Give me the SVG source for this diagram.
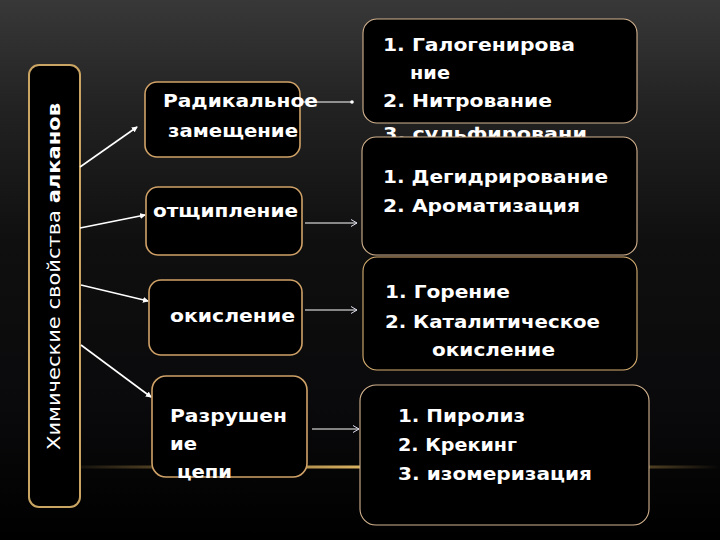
<svg xmlns="http://www.w3.org/2000/svg" width="720" height="540" viewBox="0 0 720 540">
  <defs>
    <linearGradient id="bg" x1="0" y1="0" x2="0" y2="1">
      <stop offset="0" stop-color="#383838"/>
      <stop offset="0.2" stop-color="#222222"/>
      <stop offset="0.45" stop-color="#0f0f0f"/>
      <stop offset="0.75" stop-color="#0a0a0c"/>
      <stop offset="1" stop-color="#000000"/>
    </linearGradient>
    <radialGradient id="glow" cx="0.5" cy="1" r="0.5">
      <stop offset="0" stop-color="#60606a" stop-opacity="1"/>
      <stop offset="0.6" stop-color="#34343a" stop-opacity="0.6"/>
      <stop offset="1" stop-color="#101012" stop-opacity="0"/>
    </radialGradient>
    <linearGradient id="goldline" x1="0" y1="0" x2="1" y2="0">
      <stop offset="0" stop-color="#c9a050" stop-opacity="0"/>
      <stop offset="0.15" stop-color="#c9a050" stop-opacity="0.4"/>
      <stop offset="0.45" stop-color="#d8b060" stop-opacity="1"/>
      <stop offset="0.8" stop-color="#c9a050" stop-opacity="0.7"/>
      <stop offset="1" stop-color="#c9a050" stop-opacity="0"/>
    </linearGradient>
    <clipPath id="aboveline"><rect x="0" y="380" width="720" height="87"/></clipPath>
    <marker id="arr" viewBox="0 0 6 6" refX="5" refY="3" markerWidth="6" markerHeight="6" markerUnits="userSpaceOnUse" orient="auto">
      <path d="M0,0 L6,3 L0,6 z" fill="#ffffff"/>
    </marker>
    <marker id="chev" viewBox="0 0 8 8" refX="7" refY="4" markerWidth="8" markerHeight="8" markerUnits="userSpaceOnUse" orient="auto">
      <polyline points="1,0.5 7,4 1,7.5" fill="none" stroke="#dde" stroke-width="1"/>
    </marker>
    <marker id="dot" viewBox="0 0 4 4" refX="2" refY="2" markerWidth="4" markerHeight="4" markerUnits="userSpaceOnUse">
      <circle cx="2" cy="2" r="1.8" fill="#ffffff"/>
    </marker>
  </defs>
  <style>
    .t { font-family: "DejaVu Sans", "Liberation Sans", sans-serif; font-weight: bold; font-size: 18px; fill: #ffffff; }
    .v { font-family: "DejaVu Sans", "Liberation Sans", sans-serif; font-size: 17px; fill: #ffffff; }
    .lbox { fill: #000000; stroke: #d0a268; stroke-width: 1.6; }
    .rbox { fill: #000000; stroke: #d4b490; stroke-width: 1.1; }
    .conn { stroke: #ffffff; stroke-width: 1.6; fill: none; }
    .rconn { stroke: #ffffff; stroke-width: 1; fill: none; }
  </style>

  <rect x="0" y="0" width="720" height="540" fill="url(#bg)"/>
  <g clip-path="url(#aboveline)">
    <ellipse cx="400" cy="467" rx="330" ry="60" fill="url(#glow)"/>
  </g>
  <rect x="60" y="465.5" width="660" height="3" fill="url(#goldline)"/>

  <g id="main">
    <rect x="29" y="65" width="51" height="442" rx="10" fill="#000000" stroke="#c9a462" stroke-width="2"/>
    <text class="v" transform="translate(60,450) rotate(-90)" x="0" y="0" textLength="347" lengthAdjust="spacingAndGlyphs">Химические свойства <tspan font-weight="bold">алканов</tspan></text>
  </g>

  <g id="connectors">
    <line class="conn" x1="80" y1="167" x2="137" y2="127" marker-end="url(#arr)"/>
    <line class="conn" x1="80" y1="228" x2="145" y2="215" marker-end="url(#arr)"/>
    <line class="conn" x1="81" y1="285" x2="148" y2="301" marker-end="url(#arr)"/>
    <line class="conn" x1="81" y1="345" x2="151" y2="397" marker-end="url(#arr)"/>
    <line class="rconn" x1="300" y1="102" x2="352" y2="102" marker-end="url(#dot)"/>
    <line class="rconn" x1="305" y1="223" x2="357" y2="223" marker-end="url(#chev)"/>
    <line class="rconn" x1="305" y1="310" x2="357" y2="310" marker-end="url(#chev)"/>
    <line class="rconn" x1="312" y1="429" x2="359" y2="429" marker-end="url(#chev)"/>
  </g>

  <g id="n1">
    <rect class="lbox" x="145" y="82" width="155" height="75" rx="12"/>
    <text class="t" x="163" y="107" textLength="155" lengthAdjust="spacingAndGlyphs">Радикальное</text>
    <text class="t" x="168" y="137" textLength="130" lengthAdjust="spacingAndGlyphs">замещение</text>
  </g>
  <g id="n2">
    <rect class="lbox" x="146" y="187" width="156" height="68" rx="12"/>
    <text class="t" x="153" y="217" textLength="145" lengthAdjust="spacingAndGlyphs">отщипление</text>
  </g>
  <g id="n3">
    <rect class="lbox" x="149" y="280" width="153" height="75" rx="12"/>
    <text class="t" x="170" y="322" textLength="125" lengthAdjust="spacingAndGlyphs">окисление</text>
  </g>
  <g id="n4">
    <rect class="lbox" x="152" y="376" width="155" height="101" rx="14"/>
    <text class="t" x="170" y="422" textLength="117" lengthAdjust="spacingAndGlyphs">Разрушен</text>
    <text class="t" x="170" y="450" textLength="27" lengthAdjust="spacingAndGlyphs">ие</text>
    <text class="t" x="177" y="478" textLength="55" lengthAdjust="spacingAndGlyphs">цепи</text>
  </g>

  <g id="r1">
    <rect class="rbox" x="363" y="19" width="274" height="104" rx="14"/>
    <text class="t" x="383" y="51" textLength="192" lengthAdjust="spacingAndGlyphs">1. Галогенирова</text>
    <text class="t" x="410" y="79" textLength="40" lengthAdjust="spacingAndGlyphs">ние</text>
    <text class="t" x="383" y="107" textLength="169" lengthAdjust="spacingAndGlyphs">2. Нитрование</text>
    <text class="t" x="383" y="140" textLength="204" lengthAdjust="spacingAndGlyphs">3. сульфировани</text>
  </g>
  <g id="r2">
    <rect class="rbox" x="362" y="137" width="275" height="118" rx="14"/>
    <text class="t" x="383" y="183" textLength="225" lengthAdjust="spacingAndGlyphs">1. Дегидрирование</text>
    <text class="t" x="383" y="212" textLength="197" lengthAdjust="spacingAndGlyphs">2. Ароматизация</text>
  </g>
  <g id="r3">
    <rect class="rbox" x="363" y="257" width="274" height="113" rx="14" style="stroke:#d8b070"/>
    <text class="t" x="385" y="298" textLength="125" lengthAdjust="spacingAndGlyphs">1. Горение</text>
    <text class="t" x="385" y="328" textLength="215" lengthAdjust="spacingAndGlyphs">2. Каталитическое</text>
    <text class="t" x="432" y="356" textLength="123" lengthAdjust="spacingAndGlyphs">окисление</text>
  </g>
  <g id="r4">
    <rect class="rbox" x="360" y="385" width="289" height="140" rx="16"/>
    <text class="t" x="398" y="422" textLength="127" lengthAdjust="spacingAndGlyphs">1. Пиролиз</text>
    <text class="t" x="398" y="451" textLength="119" lengthAdjust="spacingAndGlyphs">2. Крекинг</text>
    <text class="t" x="398" y="480" textLength="194" lengthAdjust="spacingAndGlyphs">3. изомеризация</text>
  </g>
</svg>
